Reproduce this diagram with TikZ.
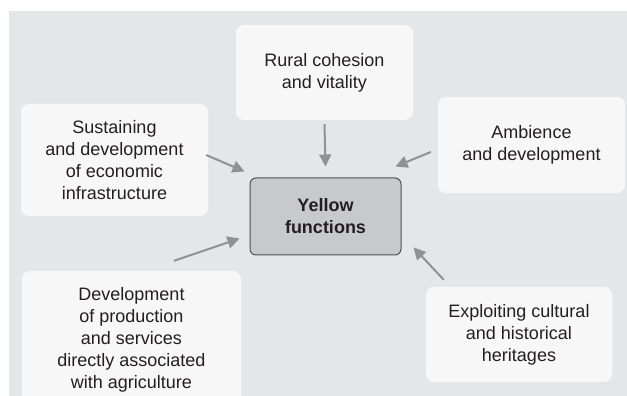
\documentclass[tikz,border=0pt]{standalone}
\usepackage{fontspec}
\setmainfont{Liberation Sans}
\usetikzlibrary{arrows.meta}
\definecolor{bggray}{HTML}{E5E6E8}
\definecolor{boxfill}{HTML}{F7F7F7}
\definecolor{midfill}{HTML}{C8C9CB}
\definecolor{middraw}{HTML}{505050}
\definecolor{arrgray}{HTML}{8F9194}
\definecolor{txtgray}{HTML}{231F20}
\begin{document}
\begin{tikzpicture}[x=1pt,y=1pt,
    box/.style={fill=boxfill,rounded corners=8pt,align=center,inner sep=0pt,
      text=txtgray,font=\fontsize{18}{22}\selectfont},
    arr/.style={draw=arrgray,line width=2pt,-{Triangle[length=12pt,width=12pt]}}]
    \useasboundingbox (0,0) rectangle (627,396);
    \fill[bggray] (9,0) rectangle (627,385);
    \node[box,minimum width=177pt,minimum height=95pt] (rural) at (324.5,323.5)
      {Rural cohesion\\and vitality};
    \node[box,minimum width=187pt,minimum height=112pt] (sust) at (114.5,236)
      {Sustaining\\and development\\of economic\\infrastructure};
    \node[box,minimum width=187pt,minimum height=96pt] (amb) at (531.5,251)
      {Ambience\\and development};
    \node[box,minimum width=219pt,minimum height=137pt] (dev) at (131.5,56.5)
      {Development\\of production\\and services\\directly associated\\with agriculture};
    \node[box,minimum width=186pt,minimum height=95pt] (expl) at (519,61.5)
      {Exploiting cultural\\and historical\\heritages};
    \node[box,fill=midfill,draw=middraw,line width=1pt,rounded corners=6pt,
      minimum width=151pt,minimum height=77pt,font=\fontsize{18}{22}\selectfont\bfseries]
      (yf) at (325.5,179.5) {Yellow\\functions};
    \draw[arr] ([yshift=-4pt]rural.south) -- ([yshift=11pt]yf.north);
    \draw[arr] ([shift={(-2pt,5pt)}]sust.east) -- ([shift={(-5pt,6pt)}]yf.north west);
    \draw[arr] ([shift={(-7pt,-7pt)}]amb.west) -- ([shift={(-6pt,11pt)}]yf.north east);
    \draw[arr] ([shift={(42.5pt,10pt)}]dev.north) -- ([shift={(-10pt,17pt)}]yf.south west);
    \draw[arr] ([shift={(18pt,7pt)}]expl.north west) -- ([shift={(12pt,8pt)}]yf.south east);
\end{tikzpicture}
\end{document}
